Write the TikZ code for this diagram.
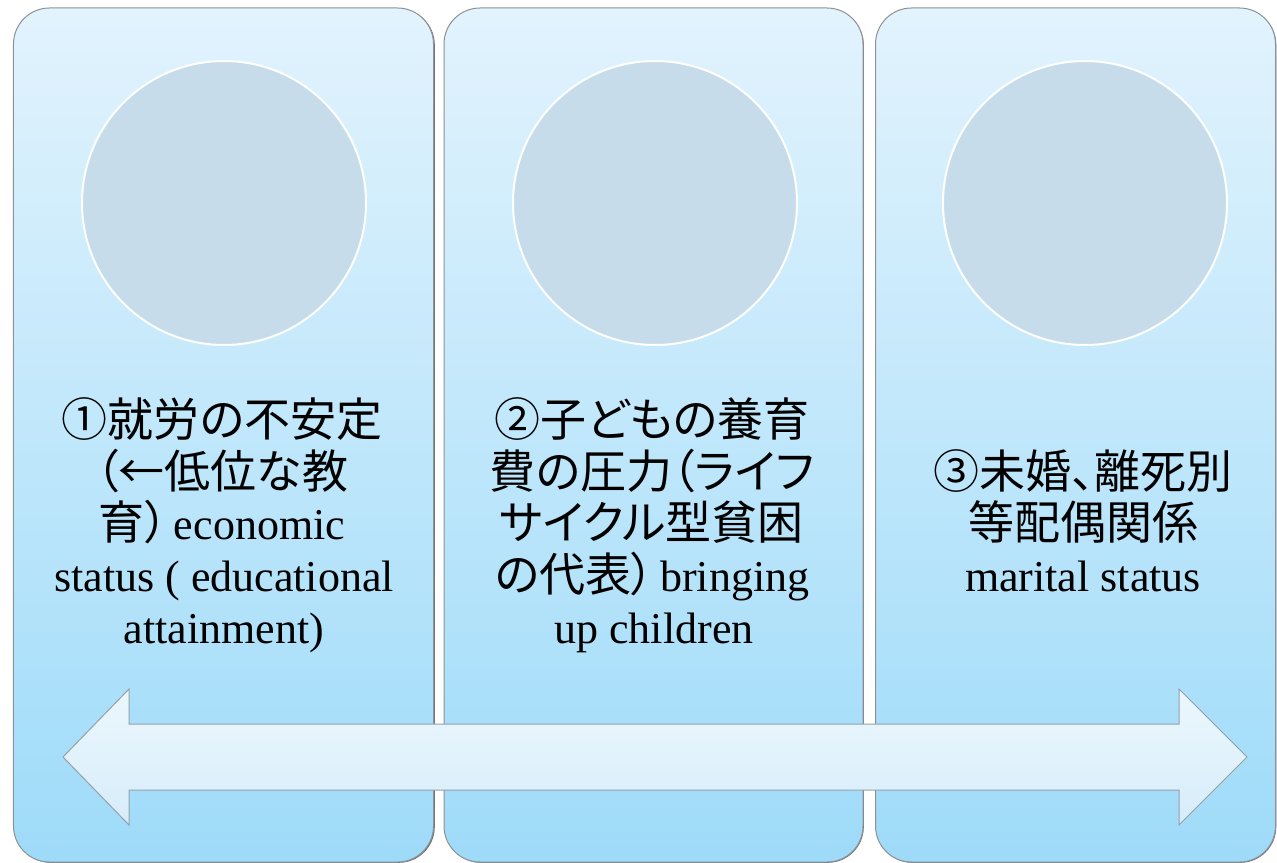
\documentclass[tikz,border=0pt]{standalone}
\usepackage{fontspec}
\setmainfont{Liberation Serif}
\newfontfamily\cjk[RawFeature=+palt]{Noto Sans CJK JP}
\newcommand\jpfont{\cjk\fontsize{46bp}{52bp}\selectfont}
\definecolor{ptop}{RGB}{226,243,253}
\definecolor{pbot}{RGB}{158,219,249}
\definecolor{circ}{RGB}{198,220,234}
\definecolor{edge}{RGB}{140,146,150}
\definecolor{shade}{RGB}{110,115,120}
\definecolor{atop}{RGB}{236,247,253}
\definecolor{abot}{RGB}{214,237,250}
\definecolor{aedge}{RGB}{150,160,168}
\tikzset{
  panelbox/.style={rectangle, rounded corners=36bp, draw=edge, line width=1bp,
    top color=ptop, bottom color=pbot, minimum height=854bp, inner sep=0pt},
  panelshadow/.style={rectangle, rounded corners=36bp, fill=shade,
    minimum height=854bp, inner sep=0pt},
  disc/.style={circle, fill=circ, draw=white, line width=2bp,
    minimum size=284bp, inner sep=0pt},
  lbl/.style={anchor=base, inner sep=0pt, text=black, text height=36bp, text depth=8bp,
    font=\fontsize{44bp}{52bp}\selectfont},
  arrowbox/.style={draw=aedge, line width=1bp, top color=atop, bottom color=abot}
}
\begin{document}
\begin{tikzpicture}[x=1bp,y=-1bp]
\useasboundingbox (0,0) rectangle (1277,863);
% shadows
\node[panelshadow, minimum width=420bp] (s1) at (224.8,435.8) {};
\node[panelshadow, minimum width=419bp] (s2) at (654.3,435.8) {};
\node[panelshadow, minimum width=400bp] (s3) at (1076.3,435.8) {};
% panels
\node[panelbox, minimum width=420bp] (p1) at (223.5,435) {};
\node[panelbox, minimum width=419bp] (p2) at (653.5,435) {};
\node[panelbox, minimum width=400bp] (p3) at (1075.5,435) {};
% circles
\node[disc] (c1) at (224,203) {};
\node[disc] (c2) at (655,203) {};
\node[disc] (c3) at (1085,203) {};
% texts panel 1
\node[lbl] (t11) at (222,436) {\jpfont ①就労の不安定};
\node[lbl] (t12) at (222,488) {\jpfont （←低位な教};
\node[lbl] (t13) at (222,539) {{\jpfont 育）}\kern6bp economic};
\node[lbl] (t14) at (224,591) {status ( educational};
\node[lbl] (t15) at (224,643) {attainment)};
% texts panel 2
\node[lbl] (t21) at (652,436) {\jpfont ②子どもの養育};
\node[lbl] (t22) at (652,488) {\jpfont 費の圧力（ライフ};
\node[lbl] (t23) at (652,539) {\jpfont サイクル型貧困};
\node[lbl] (t24) at (652,591) {{\jpfont の代表）}\kern6bp bringing};
\node[lbl] (t25) at (654,643) {up children};
% texts panel 3
\node[lbl] (t31) at (1083,488) {\jpfont ③未婚、離死別};
\node[lbl] (t32) at (1083,539) {\jpfont 等配偶関係};
\node[lbl] (t33) at (1083,591) {marital status};
% double arrow
\coordinate (aL) at (63,757);
\coordinate (aR) at (1247,757);
\draw[arrowbox] (aL) -- (129,689) -- (129,724) -- (1179,724) -- (1179,689)
  -- (aR) -- (1179,825) -- (1179,790) -- (129,790) -- (129,825) -- cycle;
\end{tikzpicture}
\end{document}
